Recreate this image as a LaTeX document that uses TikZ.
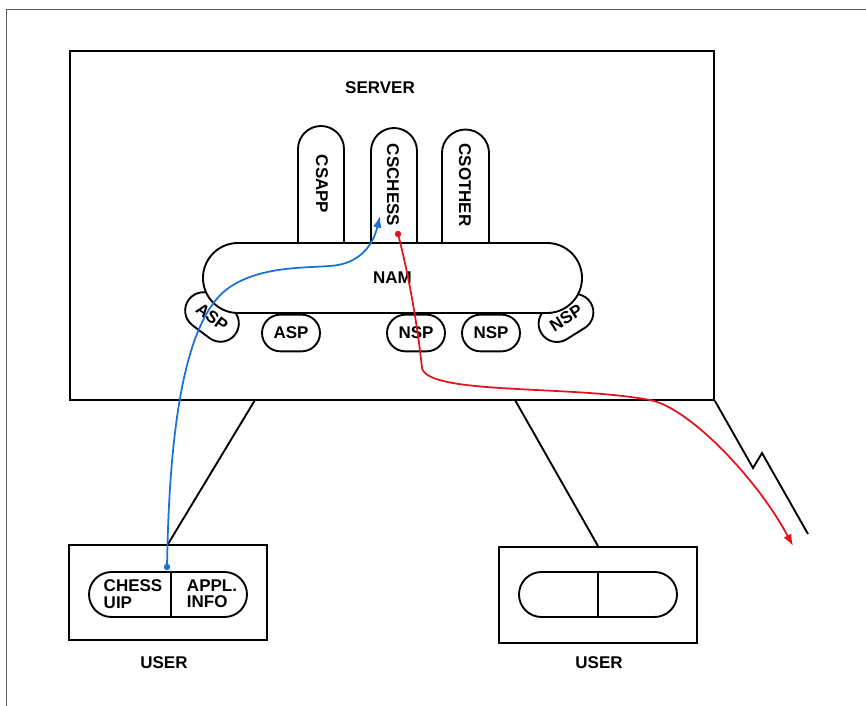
\documentclass[tikz,border=0pt]{standalone}
\usepackage{fontspec}
\setmainfont{Liberation Sans}
\usetikzlibrary{arrows.meta,calc}
\definecolor{pathblue}{RGB}{25,115,215}
\definecolor{pathred}{RGB}{225,20,30}
\definecolor{framegray}{RGB}{90,90,90}
\begin{document}
\begin{tikzpicture}[x=0.03cm,y=-0.03cm,
  every node/.style={font=\fontsize{14.5}{14}\selectfont\bfseries, inner sep=0pt},
  box/.style={draw, line width=1.6pt},
  pill/.style={draw, line width=1.6pt, fill=white, minimum width=1.74cm, minimum height=1.1cm, rounded corners=0.55cm},
  wire/.style={line width=1.6pt},
  flow/.style={line width=1.5pt, -{Latex[length=3.5mm,width=2.6mm]}}]
\useasboundingbox (0,0) rectangle (866,706);
% outer frame (top and left edges only)
\draw[framegray, line width=0.8pt] (6,706) -- (6,9) -- (866,9);
% server
\node[box, minimum width=19.32cm, minimum height=10.47cm] (server) at (392,225.5) {};
\node (servertxt) at (380,88) {SERVER};
% CS capsules (open bottom, tucked under NAM)
\draw[wire, fill=white] (298,252) -- (298,149) arc (180:360:23) -- (344,252);
\draw[wire, fill=white] (371,252) -- (371,151) arc (180:360:23) -- (417,252);
\draw[wire, fill=white] (442,252) -- (442,153) arc (180:360:23.5) -- (489,252);
\node[rotate=-90] (csapp) at (322,184) {CSAPP};
\node[rotate=-90] (cschess) at (393,185) {CSCHESS};
\node[rotate=-90] (csother) at (465,185) {CSOTHER};
% small service capsules
\node[pill, rotate=-37] (asp1) at (212,317) {ASP};
\node[pill] (asp2) at (291,333) {ASP};
\node[pill] (nsp1) at (416,333) {NSP};
\node[pill] (nsp2) at (491,333) {NSP};
\node[pill, rotate=32] (nsp3) at (566,318) {NSP};
% NAM
\node[box, fill=white, minimum width=11.37cm, minimum height=2.1cm, rounded corners=1.05cm] (nam) at (392.5,278) {NAM};
% users
\node[box, minimum width=5.94cm, minimum height=2.85cm] (u1) at (168,592.5) {};
\node[box, minimum width=5.94cm, minimum height=2.88cm] (u2) at (598,595) {};
\node[box, minimum width=4.74cm, minimum height=1.35cm, rounded corners=0.675cm] (cap1) at (168,594.5) {};
\node[box, minimum width=4.74cm, minimum height=1.35cm, rounded corners=0.675cm] (cap2) at (598,594.5) {};
\draw[wire] (171,572) -- (171,617);
\draw[wire] (598,572) -- (598,617);
\node[align=left] (uip) at (133,594) {CHESS\\UIP};
\node[align=left] (info) at (212,594) {APPL.\\INFO};
\node (user1) at (164,663) {USER};
\node (user2) at (599,663) {USER};
% links
\coordinate (sl) at (255,400);
\coordinate (sr) at (515,400);
\draw[wire] (sl) -- (u1.north);
\draw[wire] (sr) -- (u2.north);
\coordinate (ltend) at (808,534);
\draw[wire] (server.south east) -- (753,468) -- (762,453) -- (ltend);
% blue flow
\coordinate (bs) at (167,567);
\coordinate (be) at (380,216);
\draw[pathblue, flow] (bs) .. controls (169,450) and (180,320) .. (230,287)
  .. controls (260,267) and (300,268) .. (330,266)
  .. controls (360,264) and (373,245) .. (be);
\fill[pathblue] (bs) circle (3.2);
% red flow
\coordinate (rs) at (398,234);
\coordinate (re) at (793,546);
\draw[pathred, flow] (rs) .. controls (410,280) and (418,330) .. (422,368)
  .. controls (428,395) and (570,385) .. (650,400)
  .. controls (690,408) and (758,480) .. (re);
\fill[pathred] (rs) circle (3.2);
\end{tikzpicture}
\end{document}
